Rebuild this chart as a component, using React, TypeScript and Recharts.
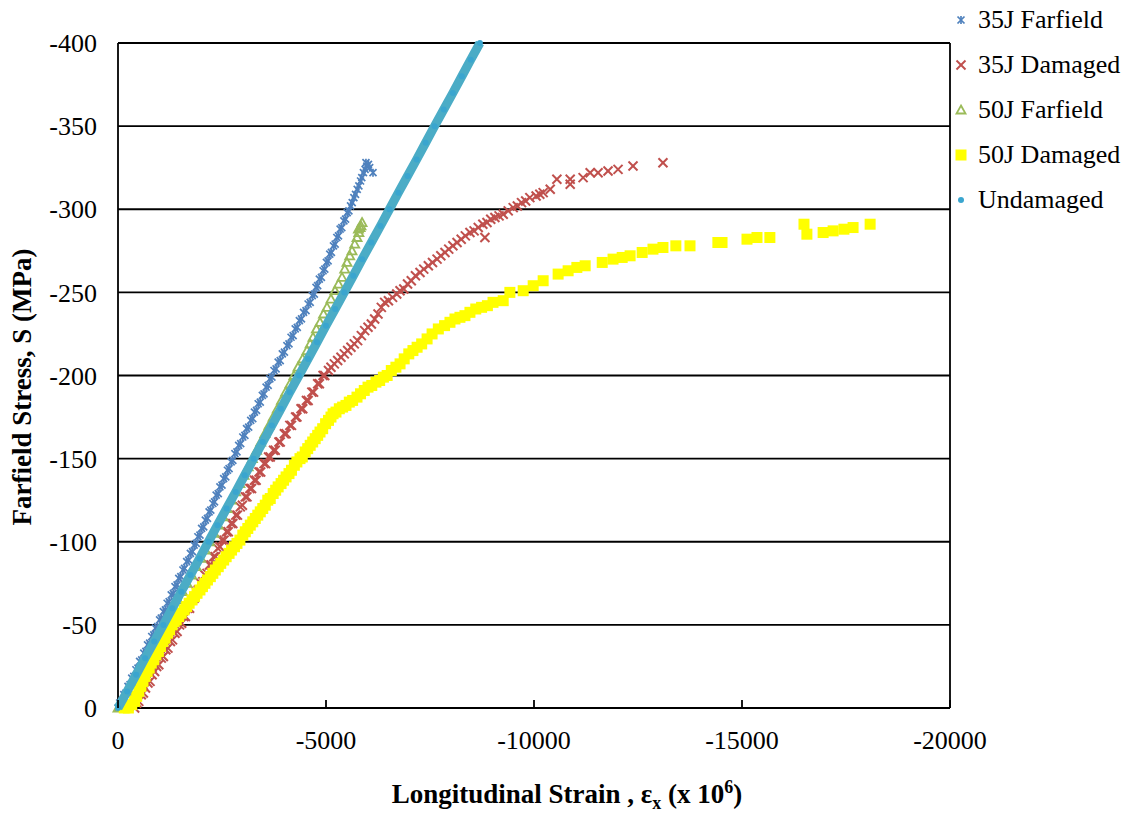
import React from 'react'
import {
  ScatterChart,
  Scatter,
  XAxis,
  YAxis,
  CartesianGrid,
  ReferenceLine,
  Label,
} from 'recharts'

document.body.style.margin = '0'

const FONT = '"Liberation Serif", "Times New Roman", serif'

// [strain (x 10^6), stress (MPa)]
const farfield35J: [number, number][] = [
  [0, 0], [-40, -3], [-90, -4], [-140, -8], [-190, -9], [-240, -13], [-290, -14], [-330, -18],
  [-380, -19], [-430, -23], [-480, -24], [-520, -28], [-570, -29], [-620, -33], [-670, -34],
  [-710, -38], [-760, -39], [-810, -43], [-860, -44], [-900, -48], [-950, -49],
  [-1000, -53], [-1040, -54], [-1090, -58], [-1140, -59], [-1180, -63], [-1230, -64], [-1280, -68],
  [-1330, -69], [-1370, -73], [-1420, -74], [-1460, -78], [-1510, -79], [-1560, -83], [-1600, -84],
  [-1650, -88], [-1700, -89], [-1740, -93], [-1790, -94], [-1830, -98], [-1880, -99],
  [-1920, -103], [-1970, -104], [-2010, -108], [-2060, -109], [-2100, -113], [-2150, -114],
  [-2190, -118], [-2230, -119], [-2280, -123], [-2320, -124], [-2360, -128], [-2410, -129],
  [-2450, -133], [-2500, -134], [-2540, -138], [-2590, -139], [-2630, -143], [-2670, -144],
  [-2720, -148], [-2760, -149],
  [-2810, -153], [-2860, -154], [-2900, -158], [-2950, -159], [-3000, -163], [-3050, -164],
  [-3090, -168], [-3140, -169], [-3190, -173], [-3240, -174], [-3280, -178], [-3330, -179],
  [-3370, -183], [-3420, -184], [-3470, -188], [-3510, -189], [-3560, -193], [-3610, -194],
  [-3650, -198], [-3700, -199],
  [-3750, -203], [-3800, -204], [-3850, -208], [-3900, -209], [-3950, -213], [-4000, -214],
  [-4060, -218], [-4110, -219], [-4160, -223], [-4210, -224], [-4260, -228], [-4310, -229],
  [-4360, -233], [-4410, -234], [-4460, -238], [-4520, -239], [-4570, -243], [-4620, -244],
  [-4670, -248], [-4720, -249],
  [-4760, -253], [-4800, -254], [-4840, -258], [-4890, -259], [-4930, -263], [-4970, -264],
  [-5010, -268], [-5050, -269], [-5090, -273], [-5130, -274], [-5180, -278], [-5220, -279],
  [-5260, -283], [-5300, -284], [-5340, -288], [-5380, -289], [-5430, -293], [-5470, -294],
  [-5510, -298], [-5550, -299],
  [-5590, -302], [-5630, -304], [-5670, -307], [-5710, -309], [-5750, -312], [-5790, -314],
  [-5830, -317], [-5860, -319], [-5900, -322], [-5940, -324], [-5980, -326], [-6020, -327],
  [-5960, -328], [-6050, -325], [-6130, -322],
]

const damaged35J: [number, number][] = [
  [-400, 0], [-450, -3], [-500, -4], [-560, -8], [-610, -9], [-660, -12], [-720, -15], [-770, -16],
  [-820, -20], [-880, -22], [-930, -25], [-980, -26], [-1040, -30], [-1090, -31], [-1150, -35],
  [-1200, -36], [-1260, -40], [-1310, -41], [-1370, -45], [-1420, -46], [-1480, -50], [-1530, -51],
  [-1580, -55], [-1620, -55], [-1680, -60], [-1720, -60], [-1780, -65], [-1830, -66], [-1880, -70],
  [-1930, -71], [-1990, -75], [-2040, -76], [-2090, -80], [-2140, -81], [-2200, -86], [-2240, -86],
  [-2300, -91], [-2340, -91], [-2400, -96], [-2450, -97], [-2500, -101], [-2550, -101],
  [-2610, -106], [-2650, -106], [-2720, -111], [-2760, -111], [-2830, -116], [-2870, -116],
  [-2940, -121], [-2990, -122], [-3060, -127], [-3100, -127], [-3170, -132], [-3210, -132],
  [-3280, -137], [-3320, -137], [-3390, -142], [-3430, -142], [-3510, -147], [-3550, -147],
  [-3620, -151], [-3660, -151],
  [-3740, -155], [-3780, -155], [-3870, -160], [-3900, -160], [-4000, -165], [-4040, -165],
  [-4130, -170], [-4170, -170], [-4270, -175], [-4300, -175], [-4400, -180], [-4440, -180],
  [-4530, -185], [-4570, -185], [-4660, -190], [-4700, -190], [-4800, -195], [-4840, -195],
  [-4930, -200], [-4970, -200],
  [-5060, -203], [-5120, -205], [-5200, -207], [-5280, -209], [-5360, -211], [-5440, -213],
  [-5520, -215], [-5600, -217], [-5680, -219], [-5760, -221], [-5850, -224], [-5930, -227],
  [-6010, -229],
  [-6090, -231], [-6170, -234], [-6250, -237], [-6330, -241], [-6410, -244], [-6500, -245],
  [-6600, -247], [-6700, -249], [-6780, -251], [-6870, -252], [-6960, -255], [-7050, -257],
  [-7150, -260], [-7260, -262], [-7350, -264], [-7460, -266], [-7560, -268], [-7670, -270],
  [-7760, -272], [-7860, -274], [-7950, -276], [-8050, -278], [-8150, -280], [-8250, -282],
  [-8350, -284], [-8460, -286], [-8560, -287], [-8660, -289], [-8770, -291], [-8820, -283],
  [-8870, -292], [-8960, -294], [-9060, -295], [-9160, -296], [-9260, -297], [-9380, -299],
  [-9500, -301], [-9600, -302], [-9700, -304], [-9800, -305], [-9900, -307], [-10050, -308],
  [-10140, -309], [-10220, -310], [-10390, -312], [-10550, -318], [-10870, -318], [-10870, -315],
  [-11180, -319], [-11350, -322], [-11540, -322], [-11780, -323], [-12020, -324], [-12380, -326],
  [-13100, -328],
]

const farfield50J: [number, number][] = [
  [0, 0], [-115, -5], [-225, -10], [-335, -15], [-445, -20], [-555, -25], [-665, -30], [-775, -35],
  [-885, -40], [-1000, -45], [-1110, -50], [-1220, -55], [-1330, -60], [-1440, -65], [-1550, -70],
  [-1660, -75], [-1770, -80], [-1880, -85], [-1990, -90], [-2100, -95], [-2200, -100],
  [-2310, -105], [-2410, -110], [-2520, -115], [-2620, -120], [-2720, -125], [-2830, -130],
  [-2930, -135], [-3030, -140], [-3130, -145], [-3230, -150], [-3330, -155], [-3430, -160],
  [-3530, -165], [-3630, -170], [-3730, -175], [-3830, -180], [-3930, -185], [-4030, -190],
  [-4135, -195], [-4230, -200], [-4327, -205], [-4440, -210], [-4544, -215], [-4620, -219],
  [-4688, -223], [-4770, -228], [-4856, -232], [-4940, -237], [-5024, -241], [-5120, -246],
  [-5217, -251], [-5300, -255], [-5385, -259], [-5450, -264], [-5505, -268], [-5570, -272],
  [-5625, -275], [-5690, -279], [-5746, -283], [-5790, -286], [-5818, -289], [-5866, -292],
  [-5840, -290], [-5780, -288],
]

const damaged50J: [number, number][] = [
  [-150, 0], [-250, 0], [-330, -2], [-400, -4], [-450, -7], [-500, -10], [-550, -13], [-600, -16],
  [-650, -19], [-700, -22], [-750, -24], [-800, -27], [-860, -29], [-910, -32], [-970, -34],
  [-1020, -37], [-1080, -40], [-1130, -42], [-1190, -45], [-1240, -47], [-1300, -50], [-1350, -52],
  [-1400, -53], [-1460, -55], [-1520, -57], [-1590, -59], [-1650, -61], [-1710, -63], [-1780, -65],
  [-1840, -67], [-1900, -69], [-1970, -71], [-2030, -73], [-2090, -75], [-2150, -77],
  [-2220, -79], [-2280, -81], [-2340, -83], [-2410, -85], [-2470, -87], [-2540, -89], [-2600, -91],
  [-2670, -93], [-2730, -95], [-2800, -97], [-2860, -99], [-2930, -101],
  [-3000, -104], [-3060, -106], [-3120, -108], [-3180, -110], [-3240, -112], [-3300, -114],
  [-3360, -116], [-3420, -118], [-3480, -120], [-3540, -122], [-3600, -125], [-3660, -126],
  [-3730, -129], [-3790, -131], [-3850, -133], [-3920, -135], [-3980, -137], [-4040, -139],
  [-4110, -141], [-4170, -143], [-4240, -146], [-4300, -148], [-4375, -150], [-4430, -151],
  [-4500, -154], [-4560, -156], [-4620, -158], [-4680, -160], [-4740, -162], [-4800, -164],
  [-4856, -166], [-4920, -168],
  [-4990, -171], [-5060, -173], [-5120, -175], [-5170, -177], [-5240, -178], [-5320, -180],
  [-5400, -181], [-5480, -182], [-5560, -184], [-5640, -185], [-5745, -187], [-5830, -189],
  [-5920, -191], [-6010, -193], [-6100, -194], [-6200, -196], [-6290, -197], [-6380, -199],
  [-6470, -200], [-6570, -203], [-6680, -205], [-6780, -207], [-6880, -210], [-6990, -213],
  [-7090, -215], [-7190, -217], [-7300, -219], [-7430, -222],
  [-7550, -225], [-7700, -228], [-7850, -230], [-7980, -232], [-8100, -234], [-8220, -235],
  [-8340, -236], [-8460, -238], [-8600, -240], [-8740, -241], [-8880, -242], [-9015, -244],
  [-9260, -245], [-9420, -250], [-9740, -251], [-9980, -254], [-10220, -257], [-10580, -261],
  [-10820, -263], [-11030, -265], [-11230, -266], [-11640, -268], [-11900, -270], [-12120, -271],
  [-12310, -272], [-12600, -274], [-12860, -276], [-13100, -277], [-13410, -278], [-13750, -278],
  [-14420, -280], [-14520, -280], [-15120, -282], [-15360, -283], [-15670, -283], [-16490, -291],
  [-16560, -285], [-16950, -286], [-17190, -287], [-17450, -288], [-17670, -289], [-18080, -291],
]

const undamaged: [number, number][] = [
  [0, 0], [-220, -10], [-435, -20], [-650, -30], [-870, -40], [-1090, -50], [-1305, -60],
  [-1520, -70], [-1740, -80], [-1960, -90], [-2175, -100], [-2390, -110], [-2610, -120],
  [-2830, -130], [-3045, -140], [-3260, -150], [-3480, -160], [-3700, -170], [-3915, -180],
  [-4130, -190], [-4350, -200], [-4570, -210], [-4785, -220], [-5000, -230], [-5220, -240],
  [-5440, -250], [-5655, -260], [-5870, -270], [-6090, -280], [-6310, -290], [-6525, -300],
  [-6740, -310], [-6960, -320], [-7180, -330], [-7395, -340], [-7610, -350], [-7830, -360],
  [-8050, -370], [-8265, -380], [-8480, -390], [-8700, -400],
]

const strainTicks = [0, -5000, -10000, -15000, -20000]
const stressTicks = [0, -50, -100, -150, -200, -250, -300, -350, -400]

const toPoints = (rows: [number, number][]) => rows.map(([x, y]) => ({ x, y }))

const COLORS = {
  f35: '#4f81bd',
  d35: '#c0504d',
  f50: '#9bbb59',
  d50: '#ffff00',
  und: '#4bacc6',
}

// marker glyphs, shared between plot and legend
const StarMark = ({ cx, cy }: any) => (
  <g stroke={COLORS.f35} strokeWidth={1.7}>
    <line x1={cx - 3.5} y1={cy - 3.5} x2={cx + 3.5} y2={cy + 3.5} />
    <line x1={cx - 3.5} y1={cy + 3.5} x2={cx + 3.5} y2={cy - 3.5} />
    <line x1={cx} y1={cy - 4} x2={cx} y2={cy + 4} />
  </g>
)

const CrossMark = ({ cx, cy }: any) => (
  <g stroke={COLORS.d35} strokeWidth={2}>
    <line x1={cx - 4.5} y1={cy - 4.5} x2={cx + 4.5} y2={cy + 4.5} />
    <line x1={cx - 4.5} y1={cy + 4.5} x2={cx + 4.5} y2={cy - 4.5} />
  </g>
)

const TriangleMark = ({ cx, cy }: any) => (
  <polygon
    points={`${cx},${cy - 4.5} ${cx + 4.5},${cy + 3.5} ${cx - 4.5},${cy + 3.5}`}
    fill="none"
    stroke={COLORS.f50}
    strokeWidth={1.8}
  />
)

const SquareMark = ({ cx, cy }: any) => (
  <rect x={cx - 5.5} y={cy - 5.5} width={11} height={11} fill={COLORS.d50} />
)

const DotMark = ({ cx, cy }: any) => <circle cx={cx} cy={cy} r={3} fill="#3aa5cf" />

const legendItems = [
  { name: '35J Farfield', Mark: StarMark },
  { name: '35J Damaged', Mark: CrossMark },
  { name: '50J Farfield', Mark: TriangleMark },
  { name: '50J Damaged', Mark: SquareMark },
  { name: 'Undamaged', Mark: DotMark },
]

const StrainTick = ({ x, y, payload }: any) => (
  <g>
    <line x1={x} x2={x} y1={y - 8} y2={y} stroke="#000" strokeWidth={1.8} />
    <text x={x} y={y + 41} textAnchor="middle" fontFamily={FONT} fontSize={26} fill="#000">
      {payload.value}
    </text>
  </g>
)

export default function App() {
  return (
    <div style={{ position: 'relative', width: 1133, height: 815, background: '#fff' }}>
      <ScatterChart width={1133} height={815} margin={{ top: 43, right: 183, bottom: 0, left: 0 }}>
        <CartesianGrid vertical={false} stroke="#000" strokeWidth={1.8} />
        <XAxis
          type="number"
          dataKey="x"
          domain={[-20000, 0]}
          ticks={strainTicks}
          reversed
          height={107}
          stroke="#000"
          strokeWidth={1.8}
          tickSize={0}
          tickMargin={0}
          tick={<StrainTick />}
        >
          <Label
            content={() => (
              <text x={567} y={803} textAnchor="middle" fontFamily={FONT} fontSize={27} fontWeight="bold" fill="#000">
                Longitudinal Strain , ε
                <tspan fontSize={18} dy={6}>x</tspan>
                <tspan dy={-6}> (x 10</tspan>
                <tspan fontSize={18} dy={-10}>6</tspan>
                <tspan dy={10}>)</tspan>
              </text>
            )}
          />
        </XAxis>
        <YAxis
          type="number"
          dataKey="y"
          domain={[-400, 0]}
          ticks={stressTicks}
          reversed
          width={118}
          stroke="#000"
          strokeWidth={1.8}
          tickLine={false}
          tickSize={0}
          tickMargin={21}
          tick={{ fontFamily: FONT, fontSize: 26, fill: '#000' }}
        >
          <Label
            content={() => (
              <text
                x={22}
                y={387}
                transform="rotate(-90 22 387)"
                textAnchor="middle"
                dominantBaseline="central"
                fontFamily={FONT}
                fontSize={27}
                fontWeight="bold"
                fill="#000"
              >
                Farfield Stress, S (MPa)
              </text>
            )}
          />
        </YAxis>
        <ReferenceLine x={-20000} stroke="#000" strokeWidth={1.8} />
        <Scatter name="35J Farfield" data={toPoints(farfield35J)} shape={<StarMark />} isAnimationActive={false} />
        <Scatter name="35J Damaged" data={toPoints(damaged35J)} shape={<CrossMark />} isAnimationActive={false} />
        <Scatter name="50J Farfield" data={toPoints(farfield50J)} shape={<TriangleMark />} isAnimationActive={false} />
        <Scatter name="50J Damaged" data={toPoints(damaged50J)} shape={<SquareMark />} isAnimationActive={false} />
        <Scatter
          name="Undamaged"
          data={toPoints(undamaged)}
          line={{ stroke: COLORS.und, strokeWidth: 9 }}
          shape={<DotMark />}
          isAnimationActive={false}
        />
      </ScatterChart>
      <div style={{ position: 'absolute', left: 950, top: 0, fontFamily: FONT, fontSize: 26, color: '#000' }}>
        {legendItems.map(({ name, Mark }, i) => (
          <div key={name} style={{ position: 'absolute', top: 3 + i * 45, left: 0, display: 'flex', alignItems: 'center', whiteSpace: 'nowrap', height: 34 }}>
            <svg width={28} height={34}>
              <Mark cx={11} cy={17} />
            </svg>
            <span>{name}</span>
          </div>
        ))}
      </div>
    </div>
  )
}
